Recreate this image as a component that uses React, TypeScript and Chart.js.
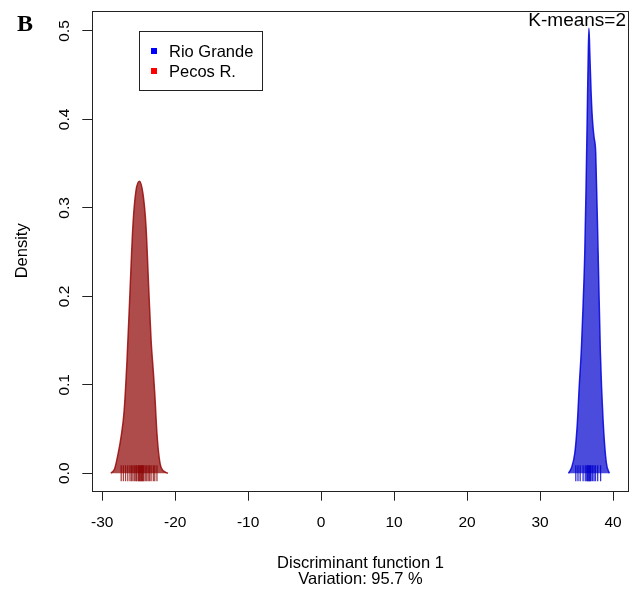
import React, { useEffect, useRef } from "react";
import { Chart, registerables } from "chart.js";

Chart.register(...registerables);

const redX = [-28.8, -28.3, -27.8, -27.4, -27.0, -26.6, -26.2, -25.8, -25.4, -24.9, -24.4, -24.0, -23.6, -23.3, -23.0, -22.8, -22.5, -22.2, -21.9, -21.0];
const redY = [0, 0.005, 0.023, 0.042, 0.07, 0.128, 0.204, 0.279, 0.318, 0.33, 0.315, 0.279, 0.204, 0.15, 0.115, 0.09, 0.045, 0.018, 0.006, 0];

const blueX = [33.9, 34.3, 34.77, 35.1, 35.37, 35.68, 35.9, 36.13, 36.3, 36.46, 36.6, 36.7, 36.82, 37.0, 37.18, 37.4, 37.63, 37.96, 38.27, 38.64, 39.08, 39.5];
const blueY = [0, 0.006, 0.023, 0.055, 0.098, 0.143, 0.19, 0.249, 0.32, 0.4, 0.47, 0.503, 0.475, 0.43, 0.4, 0.38, 0.362, 0.249, 0.136, 0.06, 0.012, 0];

const redRug = [-27.4, -27.1, -26.8, -26.5, -26.2, -26.0, -25.8, -25.6, -25.4, -25.3, -25.1, -25.0, -24.9, -24.8, -24.7, -24.6, -24.5, -24.4, -24.3, -24.1, -23.9, -23.7, -23.5, -23.3, -23.0, -22.8, -22.5];
const blueRug = [34.9, 35.2, 35.5, 35.9, 36.2, 36.4, 36.5, 36.6, 36.7, 36.8, 36.9, 37.0, 37.2, 37.4, 37.6, 37.9, 38.3];

const xTicks = [-30, -20, -10, 0, 10, 20, 30, 40];
const yTicks = [0, 0.1, 0.2, 0.3, 0.4, 0.5];
const yTickLabels = ["0.0", "0.1", "0.2", "0.3", "0.4", "0.5"];

const seriesNames = ["Rio Grande", "Pecos R."];
const legendColors = ["#0000FF", "#FF0000"];
const panelLabel = "B";
const cornerText = "K-means=2";
const yTitle = "Density";
const xTitleLines = ["Discriminant function 1", "Variation: 95.7 %"];

const SANS = "'Liberation Sans', Arial, Helvetica, sans-serif";

const decorPlugin = {
  id: "decor",
  afterDraw(chart: any) {
    const ctx = chart.ctx;
    const a = chart.chartArea;
    const xs = chart.scales.x;
    const ys = chart.scales.y;
    ctx.save();
    // box
    ctx.strokeStyle = "#222";
    ctx.lineWidth = 1;
    ctx.strokeRect(Math.round(a.left) + 0.5, Math.round(a.top) + 0.5, Math.round(a.right - a.left), Math.round(a.bottom - a.top));

    ctx.fillStyle = "#000";
    // x tick labels
    ctx.font = `15.5px ${SANS}`;
    ctx.textAlign = "center";
    ctx.textBaseline = "alphabetic";
    xTicks.forEach((v) => {
      ctx.fillText(String(v), xs.getPixelForValue(v), 527);
    });
    // y tick labels rotated
    yTicks.forEach((v, i) => {
      ctx.save();
      ctx.translate(69, ys.getPixelForValue(v));
      ctx.rotate(-Math.PI / 2);
      ctx.fillText(yTickLabels[i], 0, 0);
      ctx.restore();
    });
    // axis titles
    ctx.font = `16.5px ${SANS}`;
    const cx = (a.left + a.right) / 2;
    ctx.fillText(xTitleLines[0], cx, 568);
    ctx.fillText(xTitleLines[1], cx, 584);
    ctx.save();
    ctx.translate(27, (a.top + a.bottom) / 2);
    ctx.rotate(-Math.PI / 2);
    ctx.fillText(yTitle, 0, 0);
    ctx.restore();

    // panel label
    ctx.font = `bold 24px 'Liberation Serif', 'Times New Roman', serif`;
    ctx.textAlign = "left";
    ctx.fillText(panelLabel, 17, 31);

    // corner text
    ctx.font = `19px ${SANS}`;
    ctx.textAlign = "right";
    ctx.fillText(cornerText, 626, 26);

    // legend
    ctx.strokeStyle = "#222";
    ctx.strokeRect(139.5, 31.5, 123, 59);
    ctx.font = `16.5px ${SANS}`;
    ctx.textAlign = "left";
    seriesNames.forEach((name, i) => {
      const yc = 51 + i * 20;
      ctx.fillStyle = legendColors[i];
      ctx.fillRect(151, yc - 3, 6, 6);
      ctx.fillStyle = "#000";
      ctx.fillText(name, 169, yc + 6);
    });
    ctx.restore();
  },
};

export default function App() {
  const ref = useRef<HTMLCanvasElement | null>(null);
  useEffect(() => {
    document.body.style.margin = "0";
    const canvas = ref.current;
    if (!canvas) return;
    const chart = new Chart(canvas, {
      type: "line",
      data: {
        datasets: [
          {
            type: "scatter",
            data: redRug.map((x) => ({ x, y: 0 })),
            pointStyle: "line",
            rotation: 90,
            radius: 8,
            borderColor: "rgba(139,0,0,0.75)",
            borderWidth: 1.3,
            order: 0,
          } as any,
          {
            type: "scatter",
            data: blueRug.map((x) => ({ x, y: 0 })),
            pointStyle: "line",
            rotation: 90,
            radius: 8,
            borderColor: "rgba(0,0,205,0.8)",
            borderWidth: 1.3,
            order: 0,
          } as any,
          {
            type: "line",
            data: redX.map((x, i) => ({ x, y: redY[i] })),
            borderColor: "rgba(150,10,10,0.85)",
            backgroundColor: "rgba(139,0,0,0.7)",
            borderWidth: 1.5,
            fill: "origin",
            pointRadius: 0,
            cubicInterpolationMode: "monotone",
            order: 1,
          },
          {
            type: "line",
            data: blueX.map((x, i) => ({ x, y: blueY[i] })),
            borderColor: "rgba(0,0,220,0.85)",
            backgroundColor: "rgba(0,0,205,0.7)",
            borderWidth: 1.5,
            fill: "origin",
            pointRadius: 0,
            cubicInterpolationMode: "monotone",
            order: 1,
          },
        ],
      },
      options: {
        responsive: false,
        animation: false,
        layout: { padding: { top: 11, right: 2.5, left: 0, bottom: 0 } },
        plugins: {
          legend: { display: false },
          tooltip: { enabled: false },
          title: { display: false },
        },
        scales: {
          x: {
            type: "linear",
            position: "bottom",
            min: -31.36,
            max: 42.15,
            afterBuildTicks: (axis: any) => {
              axis.ticks = xTicks.map((v) => ({ value: v }));
            },
            afterFit: (axis: any) => {
              axis.height = 98.3;
            },
            grid: { drawOnChartArea: false, drawTicks: true, tickLength: 10, color: "#222", lineWidth: 1 },
            border: { display: false },
            ticks: { display: false },
          },
          y: {
            type: "linear",
            position: "left",
            min: -0.0197,
            max: 0.5226,
            afterBuildTicks: (axis: any) => {
              axis.ticks = yTicks.map((v) => ({ value: v }));
            },
            afterFit: (axis: any) => {
              axis.width = 92.3;
            },
            grid: { drawOnChartArea: false, drawTicks: true, tickLength: 10, color: "#222", lineWidth: 1 },
            border: { display: false },
            ticks: { display: false },
          },
        },
      },
      plugins: [decorPlugin],
    } as any);
    return () => chart.destroy();
  }, []);
  return (
    <div style={{ width: 638, height: 589 }}>
      <canvas ref={ref} width={638} height={589} style={{ display: "block" }} />
    </div>
  );
}
